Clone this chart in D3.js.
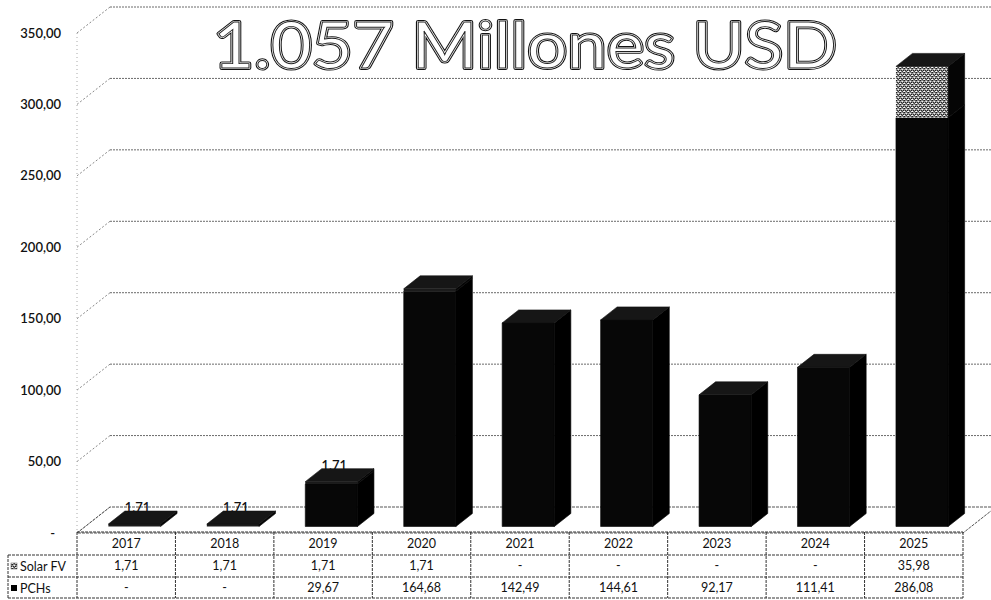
<!DOCTYPE html>
<html>
<head>
<meta charset="utf-8">
<script src="https://cdn.jsdelivr.net/npm/d3@7"></script>
<style>
  html, body { margin: 0; padding: 0; background: #fff; }
  svg { display: block; }
  text { font-family: Lato, "Liberation Sans", sans-serif; fill: #111; }
</style>
</head>
<body>
<svg id="chart" width="991" height="600"></svg>
<script>
// ---- data ----
const years = ["2017", "2018", "2019", "2020", "2021", "2022", "2023", "2024", "2025"];
const solarFV = [1.71, 1.71, 1.71, 1.71, 0, 0, 0, 0, 35.98];
const pchs = [0, 0, 29.67, 164.68, 142.49, 144.61, 92.17, 111.41, 286.08];
const seriesNames = ["Solar FV", "PCHs"];
const yTicks = [0, 50, 100, 150, 200, 250, 300, 350];
const labelledYears = ["2017", "2018", "2019"];
const titleText = "1.057 Millones USD";

// ---- number format (es) ----
const es = d3.formatLocale({ decimal: ",", thousands: ".", grouping: [3], currency: ["", " $"] });
const fmt2 = es.format(",.2f");
const cell = v => (v === 0 ? "-" : fmt2(v));

// ---- layout ----
const svg = d3.select("#chart");
const plotLeft = 77, plotRight = 963;
const DX = 33, DY = 26;          // depth offset of the floor / walls
const zF = 0.25, zB = 0.75;      // bar depth range (fraction of the floor depth)

const y = d3.scaleLinear().domain([0, 350]).range([533, 33]);
const x = d3.scaleBand().domain(years).range([plotLeft, plotRight])
  .paddingInner(0.47).paddingOuter(0.235);
const xc = d3.scaleBand().domain(years).range([plotLeft, plotRight]);

const P = (px, v, z) => [px + DX * z, y(v) - DY * z];

// ---- defs: grainy fill for the Solar FV series ----
const defs = svg.append("defs");
const pat = defs.append("pattern").attr("id", "grain")
  .attr("width", 4).attr("height", 4).attr("patternUnits", "userSpaceOnUse");
pat.append("rect").attr("width", 4).attr("height", 4).attr("fill", "#8a8a8a");
[[0, 0, "#1e1e1e"], [2, 1, "#f2f2f2"], [1, 2, "#2a2a2a"], [3, 3, "#e6e6e6"],
 [3, 0, "#555"], [0, 3, "#fff"], [1, 1, "#bbb"], [2, 3, "#444"], [3, 2, "#222"]]
  .forEach(([px, py, c]) => pat.append("rect").attr("x", px).attr("y", py)
    .attr("width", 1).attr("height", 1).attr("fill", c));

const gridStroke = "#6a6a6a";

// ---- walls and floor ----
const walls = svg.append("g");
// back-wall gridlines
walls.selectAll("line.grid").data(yTicks.filter(t => t > 0)).join("line")
  .attr("class", "grid")
  .attr("x1", d => P(plotLeft, d, 1)[0]).attr("x2", 991)
  .attr("y1", d => P(plotLeft, d, 1)[1]).attr("y2", d => P(plotLeft, d, 1)[1])
  .attr("stroke", gridStroke).attr("stroke-width", 1).attr("stroke-dasharray", "2,1");
// side-wall diagonals
walls.selectAll("line.diag").data(yTicks).join("line")
  .attr("class", "diag")
  .attr("x1", d => P(plotLeft, d, 0)[0]).attr("y1", d => P(plotLeft, d, 0)[1])
  .attr("x2", d => P(plotLeft, d, 1)[0]).attr("y2", d => P(plotLeft, d, 1)[1])
  .attr("stroke", "#888").attr("stroke-width", 1).attr("stroke-dasharray", "2,2");
// side-wall front edge
walls.append("line")
  .attr("x1", plotLeft).attr("x2", plotLeft).attr("y1", y(350)).attr("y2", y(0))
  .attr("stroke", "#aaa").attr("stroke-width", 1).attr("stroke-dasharray", "1,3");
// floor
const floorPts = [P(plotLeft, 0, 0), P(plotLeft, 0, 1), P(plotRight, 0, 1), P(plotRight, 0, 0)];
walls.append("path")
  .attr("d", "M" + floorPts.map(p => p.join(",")).join("L") + "Z")
  .attr("fill", "none").attr("stroke", "#555").attr("stroke-width", 1).attr("stroke-dasharray", "3,1");

// ---- y axis labels ----
svg.append("g").selectAll("text").data(yTicks).join("text")
  .attr("x", d => (d === 0 ? 55 : 61))
  .attr("y", d => y(d) + 4.5)
  .attr("text-anchor", "end")
  .attr("font-size", 13)
  .attr("font-weight", 600)
  .text(d => (d === 0 ? "-" : fmt2(d)));

// ---- Solar FV data labels (drawn under the bars) ----
const rows = years.map((yr, i) => ({ yr, solar: solarFV[i], pch: pchs[i] }));
svg.append("g").selectAll("text")
  .data(rows.filter(r => labelledYears.includes(r.yr) && r.solar > 0)).join("text")
  .attr("x", r => P(x(r.yr), 0, zF)[0] + x.bandwidth() / 2 + 3)
  .attr("y", r => P(x(r.yr), r.pch + r.solar, zB)[1] + 1)
  .attr("text-anchor", "middle")
  .attr("font-size", 13)
  .attr("font-weight", 600)
  .text(r => fmt2(r.solar));

// ---- 3D stacked columns ----
const bars = svg.append("g");
const poly = pts => "M" + pts.map(p => p.join(",")).join("L") + "Z";

rows.forEach(r => {
  const x0 = x(r.yr), x1 = x0 + x.bandwidth();
  const segs = [
    { lo: 0, hi: r.pch, front: "#070707", edge: "#070707", side: "#000" },
    { lo: r.pch, hi: r.pch + r.solar, front: r.solar > 10 ? "url(#grain)" : "#1c1c1c", edge: "none", side: "#050505" }
  ].filter(s => s.hi > s.lo);
  const g = bars.append("g");
  segs.forEach(s => {
    const fl = P(x0, s.lo, zF), fh = P(x0, s.hi, zF);
    const rl = P(x1, s.lo, zF), rh = P(x1, s.hi, zF);
    const rlb = P(x1, s.lo, zB), rhb = P(x1, s.hi, zB);
    g.append("path").attr("d", poly([fl, fh, rh, rl])).attr("fill", s.front)
      .attr("stroke", s.edge).attr("stroke-width", 0.6);
    g.append("path").attr("d", poly([rl, rh, rhb, rlb])).attr("fill", s.side)
      .attr("stroke", s.side).attr("stroke-width", 0.6);
  });
  const top = r.pch + r.solar;
  g.append("path")
    .attr("d", poly([P(x0, top, zF), P(x0, top, zB), P(x1, top, zB), P(x1, top, zF)]))
    .attr("fill", "#161616").attr("stroke", "#111").attr("stroke-width", 0.6);
});

// ---- data table ----
const tbl = svg.append("g");
const rowY = [532, 555, 577, 598];
const lineAttrs = sel => sel.attr("stroke", "#333").attr("stroke-width", 1).attr("stroke-dasharray", "3,1");
// horizontal rules
tbl.append("line").attr("x1", plotLeft).attr("x2", plotRight).attr("y1", rowY[0]).attr("y2", rowY[0]).call(lineAttrs);
[rowY[1], rowY[2], rowY[3]].forEach(yy =>
  tbl.append("line").attr("x1", 8).attr("x2", plotRight).attr("y1", yy).attr("y2", yy).call(lineAttrs));
// vertical rules
const colEdges = years.map(yr => xc(yr)).concat([plotRight]);
tbl.selectAll("line.v").data(colEdges).join("line").attr("class", "v")
  .attr("x1", d => d).attr("x2", d => d).attr("y1", rowY[0]).attr("y2", rowY[3]).call(lineAttrs);
tbl.append("line").attr("x1", 8).attr("x2", 8).attr("y1", rowY[1]).attr("y2", rowY[3]).call(lineAttrs);

// year headers
tbl.selectAll("text.yr").data(years).join("text").attr("class", "yr")
  .attr("x", d => xc(d) + xc.bandwidth() / 2).attr("y", 548)
  .attr("text-anchor", "middle").attr("font-size", 12.5).text(d => d);
// values
const seriesVals = [solarFV, pchs];
seriesVals.forEach((vals, si) => {
  tbl.selectAll("text.s" + si).data(vals).join("text").attr("class", "s" + si)
    .attr("x", (d, i) => xc(years[i]) + xc.bandwidth() / 2)
    .attr("y", si === 0 ? 570 : 592)
    .attr("text-anchor", "middle").attr("font-size", 12.5).text(d => cell(d));
});
// legend cells
seriesNames.forEach((name, si) => {
  const cy = si === 0 ? 566 : 588;
  tbl.append("rect").attr("x", 11).attr("y", cy - 3).attr("width", 6).attr("height", 6)
    .attr("fill", si === 0 ? "url(#grain)" : "#000")
    .attr("stroke", si === 0 ? "#555" : "none").attr("stroke-width", 0.5);
  tbl.append("text").attr("x", 20).attr("y", cy + 4.5)
    .attr("font-size", 12.5).text(name);
});

// ---- outlined title ----
const tg = svg.append("g");
const tAttrs = sel => sel.attr("x", 525).attr("y", 68).attr("text-anchor", "middle")
  .attr("font-size", 64).attr("font-weight", 400).attr("textLength", 624).attr("lengthAdjust", "spacingAndGlyphs")
  .style("font-family", "Lato, sans-serif").text(titleText);
tg.append("text").call(tAttrs).style("fill", "#fff").attr("stroke", "#111").attr("stroke-width", 4.2).attr("stroke-linejoin", "round");
tg.append("text").call(tAttrs).style("fill", "#fff").attr("stroke", "#fff").attr("stroke-width", 2.2).attr("stroke-linejoin", "round");
tg.append("text").call(tAttrs).style("fill", "#fff").attr("stroke", "#222").attr("stroke-width", 0.9);
</script>
</body>
</html>
